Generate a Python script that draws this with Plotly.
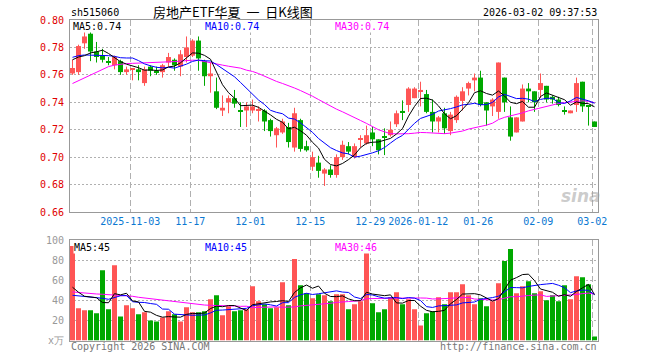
import numpy as np
import pandas as pd
import plotly.graph_objects as go

# ---------------- data ----------------
open_ = [0.761, 0.762, 0.783, 0.790, 0.777, 0.774, 0.770, 0.767, 0.770, 0.762,
         0.764, 0.764, 0.754, 0.766, 0.763, 0.762, 0.769, 0.771, 0.766, 0.773,
         0.774, 0.785, 0.770, 0.759, 0.748, 0.734, 0.740, 0.743, 0.7341, 0.734,
         0.734, 0.734, 0.734, 0.727, 0.716, 0.718, 0.722, 0.707, 0.727, 0.708,
         0.693, 0.696, 0.688, 0.691, 0.687, 0.700, 0.708, 0.700, 0.7127, 0.710,
         0.718, 0.713, 0.7151, 0.716, 0.724, 0.7334, 0.738, 0.743, 0.748, 0.746,
         0.733, 0.726, 0.732, 0.719, 0.727, 0.741, 0.750, 0.756, 0.758, 0.740,
         0.737, 0.733, 0.758, 0.729, 0.718, 0.726, 0.750, 0.748, 0.749, 0.752,
         0.744, 0.742, 0.7338, 0.732, 0.738, 0.755, 0.737, 0.726]
high = [0.771, 0.782, 0.796, 0.797, 0.784, 0.779, 0.773, 0.774, 0.771, 0.766,
        0.765, 0.767, 0.766, 0.767, 0.766, 0.768, 0.776, 0.772, 0.778, 0.788,
        0.786, 0.788, 0.771, 0.769, 0.758, 0.745, 0.745, 0.749, 0.740, 0.740,
        0.742, 0.737, 0.735, 0.728, 0.722, 0.728, 0.725, 0.736, 0.728, 0.712,
        0.704, 0.701, 0.692, 0.694, 0.702, 0.712, 0.711, 0.710, 0.716, 0.723,
        0.722, 0.713, 0.721, 0.726, 0.734, 0.7414, 0.751, 0.751, 0.755, 0.749,
        0.742, 0.730, 0.736, 0.733, 0.745, 0.751, 0.755, 0.761, 0.763, 0.740,
        0.743, 0.769, 0.758, 0.737, 0.729, 0.753, 0.754, 0.748, 0.761, 0.752,
        0.745, 0.744, 0.737, 0.734, 0.758, 0.755, 0.737, 0.726]
low = [0.760, 0.760, 0.779, 0.770, 0.769, 0.769, 0.767, 0.764, 0.760, 0.760,
       0.756, 0.756, 0.752, 0.759, 0.760, 0.758, 0.766, 0.763, 0.759, 0.769,
       0.773, 0.763, 0.752, 0.747, 0.735, 0.730, 0.732, 0.736, 0.722, 0.722,
       0.732, 0.726, 0.719, 0.715, 0.707, 0.717, 0.707, 0.704, 0.704, 0.704,
       0.690, 0.685, 0.679, 0.685, 0.685, 0.698, 0.702, 0.699, 0.707, 0.709,
       0.708, 0.702, 0.7015, 0.715, 0.722, 0.727, 0.733, 0.743, 0.737, 0.732,
       0.718, 0.718, 0.717, 0.716, 0.725, 0.734, 0.745, 0.748, 0.737, 0.723,
       0.730, 0.728, 0.733, 0.712, 0.718, 0.726, 0.740, 0.733, 0.743, 0.740,
       0.739, 0.737, 0.731, 0.732, 0.733, 0.733, 0.723, 0.722]
close = [0.765, 0.781, 0.788, 0.777, 0.773, 0.771, 0.769, 0.773, 0.762, 0.764,
         0.765, 0.762, 0.764, 0.763, 0.762, 0.767, 0.773, 0.767, 0.775, 0.780,
         0.785, 0.772, 0.759, 0.761, 0.736, 0.736, 0.743, 0.739, 0.7336, 0.737,
         0.737, 0.735, 0.726, 0.719, 0.721, 0.726, 0.711, 0.732, 0.706, 0.705,
         0.700, 0.690, 0.691, 0.687, 0.700, 0.709, 0.704, 0.708, 0.7134, 0.716,
         0.713, 0.705, 0.7144, 0.720, 0.732, 0.7329, 0.750, 0.750, 0.749, 0.733,
         0.726, 0.729, 0.721, 0.731, 0.744, 0.748, 0.754, 0.758, 0.738, 0.734,
         0.742, 0.769, 0.740, 0.715, 0.729, 0.750, 0.748, 0.740, 0.754, 0.742,
         0.742, 0.738, 0.7334, 0.734, 0.754, 0.737, 0.7366, 0.722]
volume = [94, 32, 30, 30, 27, 70, 31, 75, 24, 35, 32, 26, 28, 20, 19, 23, 29, 26, 19, 33,
          28, 28, 29, 41, 45, 25, 34, 29, 30, 31, 54, 39, 36, 32, 33, 58, 35, 81, 55, 47,
          42, 46, 45, 39, 46, 46, 31, 36, 39, 88, 37, 28, 31, 43, 48, 36, 41, 31, 15, 27,
          29, 43, 36, 48, 48, 56, 45, 36, 42, 34, 39, 57, 79, 91, 47, 54, 59, 47, 49, 40,
          45, 39, 55, 41, 64, 63, 56, 4]

# moving-average values before enough bars exist
ma5_head = [0.771, 0.773, 0.774, 0.776]
ma10_head = [0.7728, 0.774, 0.7745, 0.7745, 0.7745, 0.7745, 0.774, 0.7735, 0.7725]
ma30_head = [0.7537, 0.7558, 0.7578, 0.7598, 0.7619, 0.7640, 0.7660, 0.7671, 0.7678, 0.7682,
             0.7684, 0.7685, 0.7687, 0.7688, 0.7690, 0.7693, 0.7695, 0.7697, 0.7701, 0.7706,
             0.7707, 0.7706, 0.7696, 0.7687, 0.7678, 0.7671, 0.7663, 0.7656, 0.7649]
vma5_head = [53, 48, 44, 43]
vma10_head = [45, 44.5, 44, 43.5, 43, 42, 41, 43, 44.5]
vma30_head = [48.3, 47.7, 47, 46.7, 46.3, 46, 45.7, 45.3, 45, 45,
              44, 43, 42.3, 41.7, 41, 40.3, 39.3, 38.3, 37.7, 37,
              36.3, 35.7, 35.3, 35, 35, 34.7, 34.3, 34.3, 34]

tick_bars = [10, 20, 30, 40, 50, 58, 68, 78, 87]
tick_labels = ["2025-11-03", "11-17", "12-01", "12-15", "12-29", "2026-01-12", "01-26", "02-09", "03-02"]
price_ticks = [0.66, 0.68, 0.70, 0.72, 0.74, 0.76, 0.78, 0.80]
vol_ticks = [0, 20, 40, 60, 80, 100]
vol_tick_labels = ["x万", "20", "40", "60", "80", "100"]
ma_labels = ["MA5:0.74", "MA10:0.74", "MA30:0.74"]
vma_labels = ["MA5:45", "MA10:45", "MA30:46"]
title_code = "sh515060"
title_name = "房地产ETF华夏 一 日K线图"
timestamp = "2026-03-02 09:37:53"

# ---------------- derived ----------------
o = np.array(open_); h = np.array(high); l = np.array(low); c = np.array(close)
v = np.array(volume, dtype=float)
n = len(c)
idx = np.arange(n)
up = c >= o

RED = '#ff5555'
GREEN = '#00a800'
MA_COL = ['#000000', '#0000ff', '#ff00ff']
colors = [RED if u else GREEN for u in up]


def ma(vals, w, head):
    out = pd.Series(vals).rolling(w).mean().to_numpy()
    out[:w - 1] = head
    return out


ma5 = ma(c, 5, ma5_head); ma10 = ma(c, 10, ma10_head); ma30 = ma(c, 30, ma30_head)
vma5 = ma(v, 5, vma5_head); vma10 = ma(v, 10, vma10_head); vma30 = ma(v, 30, vma30_head)

W, H = 660, 360
X0, X1 = 70, 598
xr = [-0.4167, n - 0.4167]
ytop1, ybot1 = 20, 212
ytop2, ybot2 = 240, 340.5
MONO = "DejaVu Sans Mono"

fig = go.Figure()

# wicks
for flag, col in [(True, RED), (False, GREEN)]:
    xs, ys = [], []
    for i in idx[up == flag]:
        xs += [i, i, None]
        ys += [l[i], h[i], None]
    fig.add_trace(go.Scatter(x=xs, y=ys, mode='lines', line=dict(color=col, width=1),
                             xaxis='x', yaxis='y', hoverinfo='skip'))

# bodies
body_base = np.minimum(o, c)
body_h = np.maximum(np.abs(c - o), 0.0008)
fig.add_trace(go.Bar(x=idx, y=body_h, base=body_base, width=5 / 6,
                     marker=dict(color=colors, line=dict(width=0)),
                     xaxis='x', yaxis='y', hoverinfo='skip'))

for arr, col in zip([ma30, ma10, ma5], MA_COL[::-1]):
    fig.add_trace(go.Scatter(x=idx, y=arr, mode='lines', line=dict(color=col, width=1),
                             xaxis='x', yaxis='y', hoverinfo='skip'))

# volume
fig.add_trace(go.Bar(x=idx, y=v, width=5 / 6, marker=dict(color=colors, line=dict(width=0)),
                     xaxis='x2', yaxis='y2', hoverinfo='skip'))
for arr, col in zip([vma30, vma10, vma5], MA_COL[::-1]):
    fig.add_trace(go.Scatter(x=idx, y=arr, mode='lines', line=dict(color=col, width=1),
                             xaxis='x2', yaxis='y2', hoverinfo='skip'))

tickpos = [b - 0.37 for b in tick_bars]
common_x = dict(domain=[X0 / W, X1 / W], range=xr, tickvals=tickpos, showgrid=True,
                gridcolor='#b0b0b0', griddash='6px,3px', gridwidth=1,
                showline=True, linecolor='#999999', linewidth=1, mirror=True,
                zeroline=False, ticks='', fixedrange=True, automargin=False)
common_y = dict(showgrid=True, gridcolor='#b0b0b0', griddash='2px,2px', gridwidth=1,
                showline=True, linecolor='#999999', linewidth=1, mirror=True,
                zeroline=False, ticks='', fixedrange=True, ticklabelstandoff=3,
                automargin=False)

fig.update_layout(
    width=W, height=H, margin=dict(l=0, r=0, t=0, b=0, autoexpand=False),
    paper_bgcolor='white', plot_bgcolor='white', showlegend=False, barmode='overlay',
    xaxis=dict(**common_x, anchor='y', ticktext=tick_labels,
               tickfont=dict(family=MONO, size=10, color='#0a78d2')),
    yaxis=dict(**common_y, domain=[1 - ybot1 / H, 1 - ytop1 / H], range=[0.66, 0.80],
               tickvals=price_ticks, ticktext=[f"{t:.2f}" for t in price_ticks],
               tickfont=dict(family=MONO, size=10, color='#e00000'), anchor='x'),
    xaxis2=dict(**common_x, anchor='y2', showticklabels=False),
    yaxis2=dict(**common_y, domain=[1 - ybot2 / H, 1 - ytop2 / H], range=[0, 100],
                tickvals=vol_ticks, ticktext=vol_tick_labels,
                tickfont=dict(family=MONO, size=10, color='#999999'), anchor='x2'),
)


def ann(text, x, y, color='black', size=10, anchor='left', family=MONO, **kw):
    fig.add_annotation(text=text, xref='paper', yref='paper', x=x / W, y=1 - y / H,
                       xanchor=anchor, yanchor='middle', showarrow=False,
                       font=dict(family=family, size=size, color=color), **kw)


ann(title_code, 69, 13)
ann(title_name.replace(" ", "\u00a0\u00a0"), 151, 11, size=13, family="Noto Sans CJK SC")
ann(timestamp, 599, 13, anchor='right')
for lab, x, col in zip(ma_labels, [72, 204, 334], MA_COL):
    ann(lab, x, 27, color=col, bgcolor='white', borderpad=0)
for lab, x, col in zip(vma_labels, [73, 204, 334], MA_COL):
    ann(lab, x, 247, color=col, bgcolor='white', borderpad=0)
ann("Copyright 2026 SINA.COM", 69, 346, color='#777777')
ann("http://finance.sina.com.cn", 599, 346, color='#777777', anchor='right')
ann("<b><i>sina</i></b>", 581, 196, color='rgba(160,160,160,0.55)', size=17,
    anchor='center', family="DejaVu Sans")

fig.write_html("out.html", config={'displayModeBar': False},
               post_script="document.body.style.margin='0';document.body.style.padding='0';")
